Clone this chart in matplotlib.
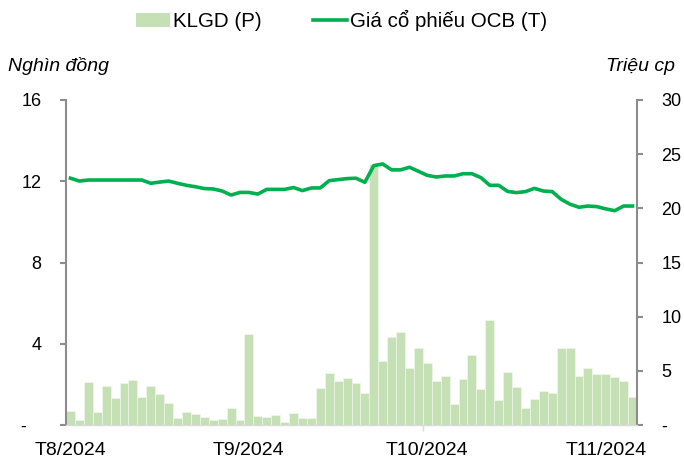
import matplotlib
matplotlib.use("Agg")
import matplotlib.pyplot as plt
from matplotlib.patches import Patch
from matplotlib.lines import Line2D
import numpy as np

plt.rcParams['font.family'] = ['Liberation Sans', 'DejaVu Sans']

volume = [1.32, 0.46, 3.97, 1.23, 3.6, 2.52, 3.85, 4.15, 2.62, 3.6,
          2.86, 2.06, 0.65, 1.2, 0.98, 0.74, 0.46, 0.55, 1.54, 0.46,
          8.37, 0.86, 0.74, 0.95, 0.31, 1.08, 0.65, 0.65, 3.38, 4.83,
          4.06, 4.37, 3.85, 2.98, 24.1, 5.94, 8.15, 8.55, 5.29, 7.14,
          5.72, 4.06, 4.49, 1.94, 4.28, 6.49, 3.29, 9.69, 2.31, 4.92,
          3.51, 1.54, 2.37, 3.17, 2.98, 7.11, 7.11, 4.49, 5.23, 4.71,
          4.71, 4.4, 4.06, 2.62]

price = [12.15, 12.01, 12.06, 12.06, 12.06, 12.06, 12.06, 12.06, 12.06, 11.9,
         11.96, 12.01, 11.9, 11.8, 11.73, 11.64, 11.62, 11.52, 11.32, 11.45,
         11.45, 11.37, 11.6, 11.6, 11.6, 11.69, 11.54, 11.67, 11.67, 12.03,
         12.08, 12.13, 12.15, 11.95, 12.77, 12.85, 12.56, 12.56, 12.69, 12.49,
         12.29, 12.21, 12.26, 12.26, 12.37, 12.37, 12.18, 11.8, 11.8, 11.5,
         11.44, 11.49, 11.65, 11.52, 11.49, 11.11, 10.87, 10.72, 10.78, 10.75,
         10.64, 10.55, 10.78, 10.78]

month_labels = ["T8/2024", "T9/2024", "T10/2024", "T11/2024"]
month_pos = [0, 20, 40, 60]

left_ticks = [0, 4, 8, 12, 16]
left_labels = ["-   ", "4", "8", "12", "16"]
right_ticks = [0, 5, 10, 15, 20, 25, 30]
right_labels = ["-", "5", "10", "15", "20", "25", "30"]

bar_color = "#C5E0B4"
line_color = "#00B050"
spine_color = "#8C8C8C"

fig = plt.figure(figsize=(6.84, 4.65), dpi=100)
ax1 = fig.add_axes([66/684, 1-425/465, (637-66)/684, (425-100)/465])
ax2 = ax1.twinx()

x = np.arange(len(volume))
ax2.bar(x, volume, width=1.0, color=bar_color, edgecolor="#F4F9F0", linewidth=0.4)
ax1.plot(x, price, color=line_color, lw=2.6, solid_joinstyle='round')

ax1.set_zorder(ax2.get_zorder() + 1)
ax1.patch.set_visible(False)

ax1.set_xlim(-0.5, len(volume) - 0.5)
ax1.set_ylim(0, 16)
ax2.set_ylim(0, 30)

ax1.set_yticks(left_ticks)
ax1.set_yticklabels(left_labels)
ax2.set_yticks(right_ticks)
ax2.set_yticklabels(right_labels)

for a in (ax1, ax2):
    for s in a.spines.values():
        s.set_visible(False)

ax1.spines['left'].set_visible(True)
ax1.spines['left'].set_color(spine_color)
ax1.spines['left'].set_linewidth(1.5)
ax2.spines['right'].set_visible(True)
ax2.spines['right'].set_color(spine_color)
ax2.spines['right'].set_linewidth(1.5)
ax1.spines['bottom'].set_visible(True)
ax1.spines['bottom'].set_color("#D9D9D9")
ax1.spines['bottom'].set_linewidth(1.0)

ax1.tick_params(axis='y', direction='out', length=4.5, width=1.5, color=spine_color,
                labelsize=13, pad=13, labelcolor='black')
ax2.tick_params(axis='y', direction='out', length=4.5, width=1.5, color=spine_color,
                labelsize=13, pad=13, labelcolor='black')

ax1.set_xticks(month_pos)
ax1.set_xticklabels(month_labels)
ax1.tick_params(axis='x', which='major', length=0, labelsize=14, pad=12)
ax1.set_xticks([39.5], minor=True)
ax1.tick_params(axis='x', which='minor', length=4, width=1, color="#D9D9D9")

fig.text(8/684, 1-71/465, "Nghìn đồng", fontsize=14, style='italic', ha='left', va='baseline')
fig.text(675/684, 1-71/465, "Triệu cp", fontsize=14, style='italic', ha='right', va='baseline')

handles = [Patch(facecolor=bar_color, edgecolor='none'),
           Line2D([0], [0], color=line_color, lw=2.6)]
fig.legend(handles, ["KLGD (P)", "Giá cổ phiếu OCB (T)"], loc='upper center',
           bbox_to_anchor=(0.5, 1.018), ncol=2, frameon=False, fontsize=14.8,
           handlelength=1.65, handletextpad=0.15, columnspacing=2.5)

fig.savefig("out.png", dpi=100)
